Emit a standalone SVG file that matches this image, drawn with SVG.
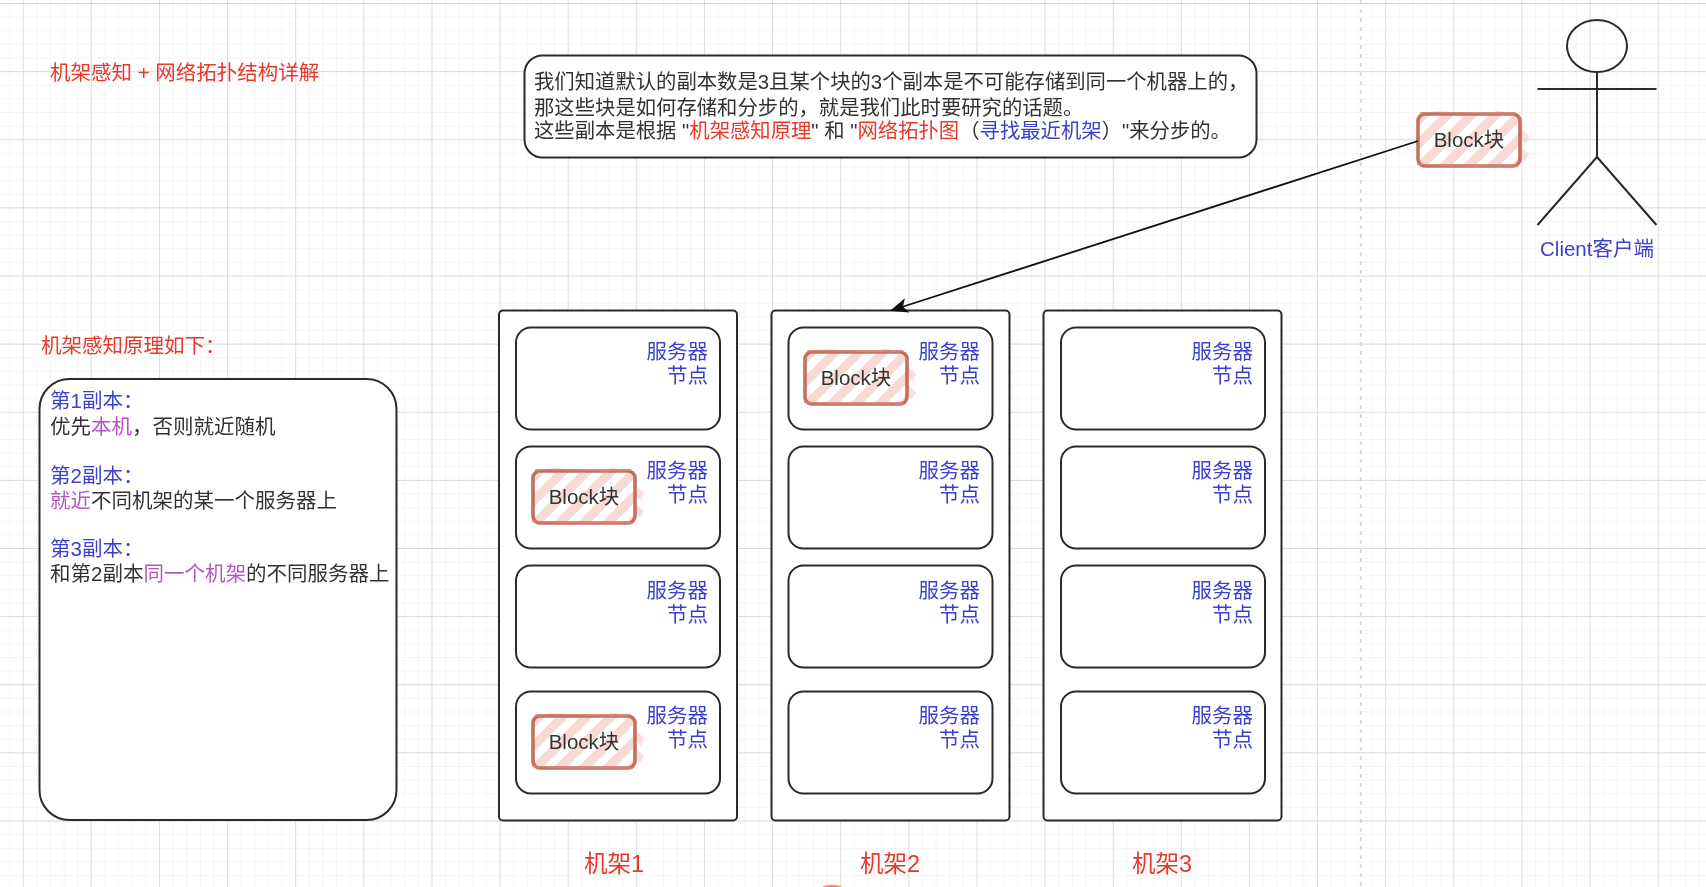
<svg xmlns="http://www.w3.org/2000/svg" width="1706" height="887" viewBox="0 0 1706 887">
<defs>
<pattern id="minor" x="22.7" y="3" width="13.625" height="13.625" patternUnits="userSpaceOnUse"><path d="M0 0H13.625M0 0V13.625" fill="none" stroke="#ececec" stroke-width="1"/></pattern>
<pattern id="major" x="22.7" y="3" width="68.125" height="68.125" patternUnits="userSpaceOnUse"><path d="M0 0H68.125M0 0V68.125" fill="none" stroke="#d2d2d2" stroke-width="1.3"/></pattern>
<pattern id="hatch" width="17" height="17" patternUnits="userSpaceOnUse" patternTransform="rotate(45)"><rect width="17" height="17" fill="#fff"/><rect width="9" height="17" fill="#f8dad5"/></pattern>
<marker id="arrow" markerWidth="19" markerHeight="16" refX="17" refY="8" orient="auto" markerUnits="userSpaceOnUse"><path d="M0 0.5L18 8L0 15.500L4.500 8Z" fill="#111"/></marker>
<filter id="soft" x="0" y="0" width="100%" height="100%"><feGaussianBlur stdDeviation="0.45"/></filter>
<g id="blockShape">
<path d="M84 -3L111 22L108 30L76 -3Z M100 30L111 40L107 47L100 41Z" fill="#f8dad5" opacity=".85"/>
<rect x="0" y="0" width="102" height="52" rx="7" fill="url(#hatch)"/>
<rect x="0" y="0" width="102" height="52" rx="7" fill="none" stroke="#c4705f" stroke-width="3.6"/>
<path d="M2 -1C30 -3 70 1 98 -1M-1 50C30 53 70 51 100 52" fill="none" stroke="#d08578" stroke-width="1.6"/>
<text x="51" y="33" class="t k" text-anchor="middle">Block块</text>
</g>
</defs>
<style>
.t{font-family:"Liberation Sans","Noto Sans CJK SC",sans-serif;font-size:20.5px}
.i{font-size:20.35px}
.big{font-size:23.5px}
.k{fill:#333}.r{fill:#e8392c}.b{fill:#3a3fd0}.p{fill:#b455c4}
.box{fill:#fff;stroke:#2a2a2a;stroke-width:2}
</style>
<g filter="url(#soft)">
<rect width="1706" height="887" fill="#fff"/>
<rect width="1706" height="887" fill="url(#minor)"/>
<rect width="1706" height="887" fill="url(#major)"/>
<path d="M1361 0V887" stroke="#cccccc" stroke-width="1.4" stroke-dasharray="4 5" fill="none"/>

<g id="title"><text x="50" y="80" class="t r">机架感知 + 网络拓扑结构详解</text></g>

<g id="intro">
<rect x="524.5" y="55.5" width="732" height="102" rx="18" class="box"/>
<text class="t i k" x="534" y="89">我们知道默认的副本数是3且某个块的3个副本是不可能存储到同一个机器上的，</text>
<text class="t i k" x="534" y="114.500">那这些块是如何存储和分步的，就是我们此时要研究的话题。</text>
<text class="t i k" x="534" y="137.500">这些副本是根据 "<tspan class="r">机架感知原理</tspan>" 和 "<tspan class="r">网络拓扑图</tspan>（<tspan class="b">寻找最近机架</tspan>）"来分步的。</text>
</g>

<g id="rack-note"><text x="41" y="352.500" class="t r">机架感知原理如下：</text></g>
<g id="rules">
<rect x="39.5" y="379" width="357" height="441" rx="30" class="box"/>
<text class="t" x="50" y="408"><tspan class="b">第1副本：</tspan></text>
<text class="t k" x="50" y="433.500">优先<tspan class="p">本机</tspan>，否则就近随机</text>
<text class="t" x="50" y="482.500"><tspan class="b">第2副本：</tspan></text>
<text class="t k" x="50" y="507.500"><tspan class="p">就近</tspan>不同机架的某一个服务器上</text>
<text class="t" x="50" y="556"><tspan class="b">第3副本：</tspan></text>
<text class="t k" x="50" y="581">和第2副本<tspan class="p">同一个机架</tspan>的不同服务器上</text>
</g>

<g id="rack1"><rect x="499" y="310.500" width="238" height="510" rx="4" class="box"/></g>
<g id="rack2"><rect x="771.500" y="310.500" width="238" height="510" rx="4" class="box"/></g>
<g id="rack3"><rect x="1043.500" y="310.500" width="238" height="510" rx="4" class="box"/></g>

<g id="r1s1"><rect x="516" y="327.500" width="204" height="102" rx="15" class="box"/><text class="t b" x="708" y="359" text-anchor="end">服务器</text><text class="t b" x="708" y="383" text-anchor="end">节点</text></g>
<g id="r1s2"><rect x="516" y="446.500" width="204" height="102" rx="15" class="box"/><text class="t b" x="708" y="478" text-anchor="end">服务器</text><text class="t b" x="708" y="502" text-anchor="end">节点</text></g>
<g id="r1s3"><rect x="516" y="565.500" width="204" height="102" rx="15" class="box"/><text class="t b" x="708" y="598" text-anchor="end">服务器</text><text class="t b" x="708" y="621.500" text-anchor="end">节点</text></g>
<g id="r1s4"><rect x="516" y="691.500" width="204" height="102" rx="15" class="box"/><text class="t b" x="708" y="723" text-anchor="end">服务器</text><text class="t b" x="708" y="747" text-anchor="end">节点</text></g>

<g id="r2s1"><rect x="788.500" y="327.500" width="204" height="102" rx="15" class="box"/><text class="t b" x="980" y="359" text-anchor="end">服务器</text><text class="t b" x="980" y="383" text-anchor="end">节点</text></g>
<g id="r2s2"><rect x="788.500" y="446.500" width="204" height="102" rx="15" class="box"/><text class="t b" x="980" y="478" text-anchor="end">服务器</text><text class="t b" x="980" y="502" text-anchor="end">节点</text></g>
<g id="r2s3"><rect x="788.500" y="565.500" width="204" height="102" rx="15" class="box"/><text class="t b" x="980" y="598" text-anchor="end">服务器</text><text class="t b" x="980" y="621.500" text-anchor="end">节点</text></g>
<g id="r2s4"><rect x="788.500" y="691.500" width="204" height="102" rx="15" class="box"/><text class="t b" x="980" y="723" text-anchor="end">服务器</text><text class="t b" x="980" y="747" text-anchor="end">节点</text></g>

<g id="r3s1"><rect x="1061" y="327.500" width="204" height="102" rx="15" class="box"/><text class="t b" x="1253" y="359" text-anchor="end">服务器</text><text class="t b" x="1253" y="383" text-anchor="end">节点</text></g>
<g id="r3s2"><rect x="1061" y="446.500" width="204" height="102" rx="15" class="box"/><text class="t b" x="1253" y="478" text-anchor="end">服务器</text><text class="t b" x="1253" y="502" text-anchor="end">节点</text></g>
<g id="r3s3"><rect x="1061" y="565.500" width="204" height="102" rx="15" class="box"/><text class="t b" x="1253" y="598" text-anchor="end">服务器</text><text class="t b" x="1253" y="621.500" text-anchor="end">节点</text></g>
<g id="r3s4"><rect x="1061" y="691.500" width="204" height="102" rx="15" class="box"/><text class="t b" x="1253" y="723" text-anchor="end">服务器</text><text class="t b" x="1253" y="747" text-anchor="end">节点</text></g>

<g id="block-client"><use href="#blockShape" x="1418" y="114"/></g>
<g id="block-r2"><use href="#blockShape" x="805" y="352"/></g>
<g id="block-r1s2"><use href="#blockShape" x="533" y="471"/></g>
<g id="block-r1s4"><use href="#blockShape" x="533" y="716"/></g>

<g id="client" fill="none" stroke="#2a2a2a" stroke-width="2">
<ellipse cx="1597" cy="46" rx="30" ry="26"/>
<path d="M1597 72V157M1537.500 89H1656.500M1597 157L1537.500 225M1597 157L1656.500 225"/>
<text class="t b" x="1597" y="256" text-anchor="middle" stroke="none" fill="#3a3fd0">Client客户端</text>
</g>

<g id="rack-labels">
<text class="t r big" x="614" y="872" text-anchor="middle">机架1</text>
<text class="t r big" x="890" y="872" text-anchor="middle">机架2</text>
<text class="t r big" x="1162" y="872" text-anchor="middle">机架3</text>
</g>
<path d="M822 887C826 884 838 884 842 887Z" fill="#ef8a80"/>

<g id="connectors"><path d="M1418 141L891 310.500" fill="none" stroke="#111" stroke-width="1.8" marker-end="url(#arrow)"/></g>
</g>
</svg>
